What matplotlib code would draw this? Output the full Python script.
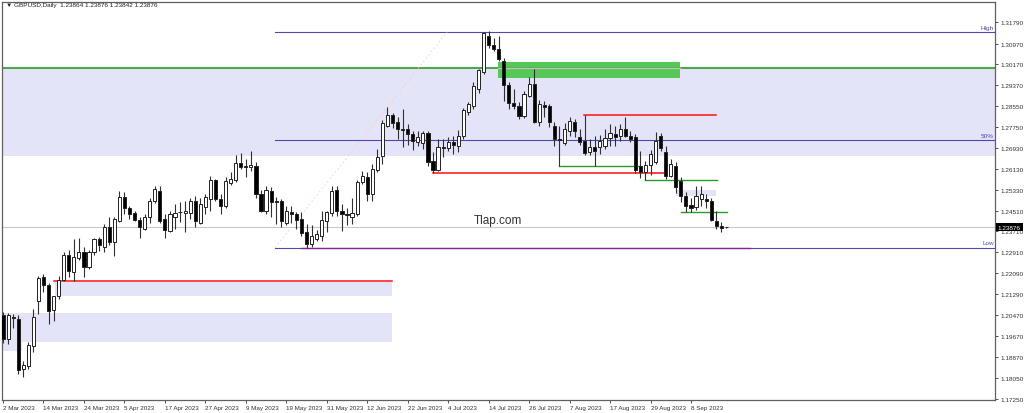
import matplotlib.pyplot as plt
from matplotlib.patches import Rectangle

plt.rcParams['font.family'] = ['Liberation Sans', 'DejaVu Sans']

# GBPUSD daily candles, 2 Mar 2023 .. 19 Sep 2023 (one per trading day)
opens = [1.2047, 1.1955, 1.2040, 1.2032, 1.1840, 1.1850, 1.1928, 1.2101,
         1.2197, 1.2166, 1.2067, 1.2120, 1.2185, 1.2280, 1.2213, 1.2267,
         1.2290, 1.2233, 1.2290, 1.2342, 1.2310, 1.2387, 1.2329, 1.2413,
         1.2503, 1.2460, 1.2442, 1.2416, 1.2381, 1.2425, 1.2489, 1.2528,
         1.2419, 1.2374, 1.2425, 1.2447, 1.2442, 1.2441, 1.2487, 1.2405,
         1.2467, 1.2496, 1.2570, 1.2496, 1.2470, 1.2557, 1.2570, 1.2634,
         1.2622, 1.2619, 1.2625, 1.2516, 1.2449, 1.2526, 1.2490, 1.2490,
         1.2402, 1.2445, 1.2438, 1.2419, 1.2368, 1.2323, 1.2342, 1.2355,
         1.2413, 1.2441, 1.2531, 1.2451, 1.2438, 1.2426, 1.2438, 1.2561,
         1.2580, 1.2516, 1.2609, 1.2664, 1.2780, 1.2822, 1.2793, 1.2767,
         1.2767, 1.2747, 1.2716, 1.2712, 1.2750, 1.2642, 1.2608, 1.2698,
         1.2693, 1.2715, 1.2702, 1.2741, 1.2831, 1.2857, 1.2920, 1.2986,
         1.3127, 1.3092, 1.3075, 1.3030, 1.2938, 1.2866, 1.2854, 1.2818,
         1.2895, 1.2941, 1.2795, 1.2860, 1.2857, 1.2780, 1.2727, 1.2713,
         1.2759, 1.2792, 1.2735, 1.2722, 1.2677, 1.2696, 1.2696, 1.2703,
         1.2731, 1.2748, 1.2740, 1.2765, 1.2740, 1.2736, 1.2624, 1.2599,
         1.2627, 1.2640, 1.2740, 1.2677, 1.2586, 1.2625, 1.2567, 1.2509,
         1.2473, 1.2464, 1.2496, 1.2495, 1.2490, 1.2413, 1.2392, 1.23864]
highs = [1.2061, 1.2055, 1.2052, 1.2050, 1.1870, 1.1945, 1.2070, 1.2200,
         1.2207, 1.2170, 1.2123, 1.2200, 1.2292, 1.2300, 1.2342, 1.2345,
         1.2310, 1.2300, 1.2345, 1.2350, 1.2400, 1.2425, 1.2427, 1.2528,
         1.2525, 1.2470, 1.2450, 1.2427, 1.2440, 1.2500, 1.2546, 1.2547,
         1.2438, 1.2450, 1.2477, 1.2484, 1.2490, 1.2500, 1.2509, 1.2500,
         1.2516, 1.2586, 1.2575, 1.2516, 1.2580, 1.2600, 1.2668, 1.2673,
         1.2651, 1.2683, 1.2640, 1.2530, 1.2545, 1.2541, 1.2505, 1.2495,
         1.2470, 1.2470, 1.2447, 1.2445, 1.2400, 1.2395, 1.2375, 1.2451,
         1.2450, 1.2547, 1.2545, 1.2477, 1.2460, 1.2500, 1.2570, 1.2606,
         1.2600, 1.2630, 1.2690, 1.2800, 1.2850, 1.2830, 1.2812, 1.2845,
         1.2785, 1.2760, 1.2760, 1.2760, 1.2760, 1.2677, 1.2728, 1.2728,
         1.2735, 1.2740, 1.2763, 1.2848, 1.2870, 1.2950, 1.3000, 1.3142,
         1.3144, 1.3119, 1.3125, 1.3042, 1.2947, 1.2920, 1.2871, 1.2915,
         1.2968, 1.2998, 1.2880, 1.2875, 1.2862, 1.2795, 1.2780, 1.2790,
         1.2812, 1.2805, 1.2765, 1.2821, 1.2730, 1.2740, 1.2745, 1.2765,
         1.2786, 1.2780, 1.2785, 1.2815, 1.2760, 1.2747, 1.2682, 1.2644,
         1.2685, 1.2754, 1.2750, 1.2700, 1.2650, 1.2640, 1.2580, 1.2522,
         1.2500, 1.2545, 1.2545, 1.2515, 1.2500, 1.2450, 1.2408, 1.23876]
lows = [1.1940, 1.1935, 1.2000, 1.1820, 1.1808, 1.1840, 1.1905, 1.2052,
        1.2137, 1.2013, 1.2026, 1.2110, 1.2181, 1.2195, 1.2181, 1.2260,
        1.2195, 1.2225, 1.2280, 1.2295, 1.2292, 1.2320, 1.2277, 1.2408,
        1.2440, 1.2419, 1.2410, 1.2345, 1.2375, 1.2405, 1.2480, 1.2405,
        1.2345, 1.2370, 1.2380, 1.2408, 1.2368, 1.2420, 1.2387, 1.2400,
        1.2438, 1.2451, 1.2490, 1.2438, 1.2460, 1.2550, 1.2561, 1.2612,
        1.2580, 1.2604, 1.2500, 1.2445, 1.2440, 1.2426, 1.2400, 1.2390,
        1.2395, 1.2405, 1.2380, 1.2355, 1.2309, 1.2310, 1.2335, 1.2336,
        1.2370, 1.2432, 1.2430, 1.2371, 1.2395, 1.2400, 1.2430, 1.2555,
        1.2490, 1.2490, 1.2600, 1.2631, 1.2776, 1.2770, 1.2729, 1.2698,
        1.2705, 1.2685, 1.2700, 1.2690, 1.2625, 1.2596, 1.2606, 1.2657,
        1.2680, 1.2670, 1.2678, 1.2730, 1.2820, 1.2845, 1.2905, 1.2980,
        1.3080, 1.3069, 1.3031, 1.2873, 1.2843, 1.2845, 1.2805, 1.2810,
        1.2890, 1.2790, 1.2780, 1.2815, 1.2775, 1.2700, 1.2625, 1.2705,
        1.2740, 1.2734, 1.2705, 1.2668, 1.2665, 1.2625, 1.2670, 1.2690,
        1.2702, 1.2700, 1.2720, 1.2735, 1.2715, 1.2596, 1.2579, 1.2569,
        1.2590, 1.2631, 1.2680, 1.2575, 1.2580, 1.2520, 1.2484, 1.2447,
        1.2445, 1.2455, 1.2470, 1.2460, 1.2410, 1.2380, 1.2370, 1.23842]
closes = [1.1955, 1.2050, 1.2038, 1.1836, 1.1855, 1.1932, 1.2040, 1.2190,
          1.2166, 1.2063, 1.2120, 1.2182, 1.2280, 1.2220, 1.2271, 1.2290,
          1.2233, 1.2290, 1.2342, 1.2319, 1.2389, 1.2331, 1.2419, 1.2503,
          1.2460, 1.2440, 1.2416, 1.2387, 1.2425, 1.2490, 1.2534, 1.2413,
          1.2378, 1.2438, 1.2442, 1.2445, 1.2451, 1.2490, 1.2410, 1.2477,
          1.2503, 1.2570, 1.2496, 1.2470, 1.2567, 1.2574, 1.2634, 1.2619,
          1.2620, 1.2629, 1.2516, 1.2449, 1.2531, 1.2483, 1.2484, 1.2410,
          1.2451, 1.2438, 1.2415, 1.2364, 1.2323, 1.2355, 1.2361, 1.2415,
          1.2445, 1.2526, 1.2449, 1.2438, 1.2433, 1.2441, 1.2561, 1.2585,
          1.2516, 1.2612, 1.2660, 1.2788, 1.2822, 1.2788, 1.2767, 1.2763,
          1.2747, 1.2719, 1.2735, 1.2752, 1.2638, 1.2608, 1.2696, 1.2693,
          1.2715, 1.2706, 1.2738, 1.2840, 1.2863, 1.2934, 1.2995, 1.3136,
          1.3092, 1.3076, 1.3037, 1.2938, 1.2868, 1.2855, 1.2818, 1.2903,
          1.2942, 1.2795, 1.2864, 1.2852, 1.2792, 1.2727, 1.2723, 1.2767,
          1.2798, 1.2760, 1.2718, 1.2674, 1.2696, 1.2683, 1.2722, 1.2732,
          1.2751, 1.2735, 1.2765, 1.2740, 1.2730, 1.2610, 1.2601, 1.2627,
          1.2669, 1.2722, 1.2695, 1.2586, 1.2632, 1.2541, 1.2509, 1.2470,
          1.2460, 1.2509, 1.2516, 1.2490, 1.2417, 1.2392, 1.2386, 1.23876]

tick_labels = ["2 Mar 2023", "14 Mar 2023", "24 Mar 2023", "5 Apr 2023",
               "17 Apr 2023", "27 Apr 2023", "9 May 2023", "19 May 2023",
               "31 May 2023", "12 Jun 2023", "22 Jun 2023", "4 Jul 2023",
               "14 Jul 2023", "26 Jul 2023", "7 Aug 2023", "17 Aug 2023",
               "29 Aug 2023", "8 Sep 2023"]
price_labels = ["1.17250", "1.18050", "1.18870", "1.19670", "1.20470",
                "1.21290", "1.22090", "1.22910", "1.23710", "1.24510",
                "1.25330", "1.26130", "1.26930", "1.27750", "1.28550",
                "1.29370", "1.30170", "1.30970", "1.31790"]

# drawn objects: (start bar, end bar, price ...)
fib_high = 1.31414
fib_low = 1.23090
fib_start = 53.8
fib_diag = (53.8, 87.8)
last_price = 1.23876
support_level = 1.30023
zones = [(-1, 197, 1.26624, 1.30023),
         (10.3, 76.9, 1.21228, 1.21746),
         (3.8, 76.9, 1.19428, 1.20548),
         (-1, 3.8, 1.19080, 1.20548),
         (133, 140.96, 1.25091, 1.25323)]
green_box = (97.8, 133.9, 1.29637, 1.30243)
red_levels = [(10, 76.9, 1.21808), (85, 130.9, 1.25956), (114.9, 141, 1.28208)]
green_levels = [(109.9, 125.9, 1.26250), (127, 141.1, 1.25686), (134, 143.1, 1.24473)]
purple_level = (59, 147.7, 1.23090)

fig = plt.figure(figsize=(10.24, 4.14), dpi=100)
ax = fig.add_axes([2 / 1024, 13 / 414, 993 / 1024, 398 / 414])
ax.set_xlim(-0.2, 196.1)
ax.set_ylim(1.17200, 1.32573)

for x0, x1, lo, hi in zones:
    ax.add_patch(Rectangle((x0, lo), x1 - x0, hi - lo, facecolor='#e4e4f8',
                           edgecolor='none', zorder=0))
gx0, gx1, glo, ghi = green_box
ax.add_patch(Rectangle((gx0, glo), gx1 - gx0, ghi - glo, facecolor='#55c855',
                       edgecolor='none', zorder=1))

ax.axhline(support_level, color='#4aa84a', lw=1.5, zorder=1)
ax.plot([gx0, gx1], [support_level] * 2, color='#b8c8b8', lw=1.0, zorder=1.5)
ax.axhline(last_price, color='#c8c8c8', lw=0.8, zorder=1)

fib_mid = (fib_high + fib_low) / 2
for lvl, name in [(fib_high, "High"), (fib_mid, "50%"), (fib_low, "Low")]:
    ax.plot([fib_start, 196.1], [lvl, lvl], color='#4a4aaa', lw=0.8, zorder=1)
    ax.text(0.999, lvl + 0.0008, name, transform=ax.get_yaxis_transform(),
            ha='right', va='bottom', fontsize=4.6, color='#4a4aaa')
ax.plot(fib_diag, [fib_low, fib_high], color='#ffc8c8', lw=0.6, ls=(0, (2, 3)), zorder=1)

px0, px1, plev = purple_level
ax.plot([px0, px1], [plev, plev], color='#802a8a', lw=1.0, zorder=1.2)
for x0, x1, lvl in red_levels:
    ax.plot([x0, x1], [lvl, lvl], color='#ff1010', lw=1.1, zorder=1.2)
for x0, x1, lvl in green_levels:
    ax.plot([x0, x1], [lvl, lvl], color='#2a9a2a', lw=1.0, zorder=1.2)

# candles
idx = list(range(len(closes)))
ax.vlines(idx, lows, highs, color='#303030', lw=0.8, zorder=3)
bottoms = [min(o, c) for o, c in zip(opens, closes)]
heights = [abs(c - o) for o, c in zip(opens, closes)]
colors = ['white' if c >= o else 'black' for o, c in zip(opens, closes)]
ax.bar(idx, heights, bottom=bottoms, width=0.62, color=colors,
       edgecolor='#222222', linewidth=0.7, zorder=4)

# axes styling
for side in ['left', 'top', 'right', 'bottom']:
    ax.spines[side].set_color('#606060')
    ax.spines[side].set_linewidth(0.9)

ax.yaxis.tick_right()
ax.set_yticks([float(p) for p in price_labels])
ax.set_yticklabels(price_labels)
ax.tick_params(axis='y', length=2.5, width=0.6, pad=1.5, labelsize=4.6,
               colors='#333333')

ax.set_xticks(range(0, 8 * len(tick_labels), 8))
ax.set_xticklabels(tick_labels, ha='left')
ax.tick_params(axis='x', length=2.5, width=0.6, pad=1.0, labelsize=4.5,
               colors='#333333')

# current price tag
ax.text(1.003, last_price, "1.23876", transform=ax.get_yaxis_transform(),
        ha='left', va='center', fontsize=4.6, color='white', zorder=10,
        bbox=dict(boxstyle='square,pad=0.25', facecolor='black', edgecolor='none'),
        clip_on=False)

fig.text(6 / 1024, 1 - 6 / 414, "\u25bc GBPUSD,Daily  1.23864 1.23876 1.23842 1.23876",
         ha='left', va='center', fontsize=4.6, color='#222222')
ax.text(0.4753, 0.452, "Tlap.com", transform=ax.transAxes, ha='left',
        va='center', fontsize=8.5, color='#333333')

fig.savefig('out.png', dpi=100, facecolor='white')
